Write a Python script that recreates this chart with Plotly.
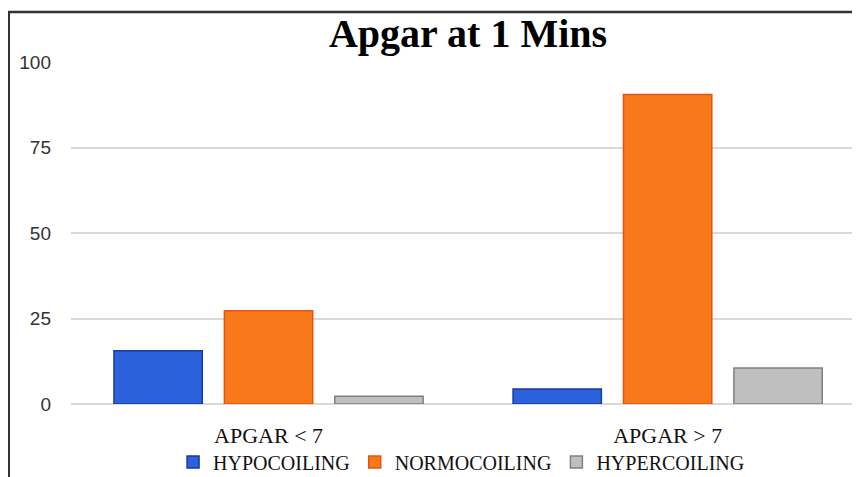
import plotly.graph_objects as go

categories = ["APGAR < 7", "APGAR > 7"]
series_names = ["HYPOCOILING", "NORMOCOILING", "HYPERCOILING"]
hypocoiling = [15.6, 4.4]
normocoiling = [27.3, 90.5]
hypercoiling = [2.3, 10.5]
y_ticks = [0, 25, 50, 75, 100]

fills = ["#2b62dc", "#f8791a", "#bfbfbf"]
lines = ["#1a3a9c", "#e5540e", "#808080"]
values = [hypocoiling, normocoiling, hypercoiling]

fig = go.Figure()
for name, vals, fc, lc in zip(series_names, values, fills, lines):
    fig.add_trace(go.Bar(
        x=categories, y=vals, name=name,
        marker=dict(color=fc, line=dict(color=lc, width=1.5)),
    ))

# page has an 8px body margin; figure is sized to fill the 860x477 window
OFF = 8
W, H = 860 - OFF, 477 - OFF
L, R, T, B = 63, 0, 62 - OFF, 477 - 404
fig.update_layout(
    width=W, height=H,
    margin=dict(l=L, r=R, t=T, b=B, pad=0, autoexpand=False),
    paper_bgcolor="white", plot_bgcolor="white",
    barmode="group", bargap=0.17, bargroupgap=0.2,
    title=dict(text="<b>Apgar at 1 Mins</b>", x=(468 - OFF) / W, xanchor="center",
               y=1 - (33 - OFF) / H, yanchor="middle",
               font=dict(family="Liberation Serif", size=40, color="black")),
    showlegend=True,
    legend=dict(orientation="h", x=0.495, xanchor="center",
                yref="container", y=1 - (462 - OFF) / H, yanchor="middle",
                font=dict(family="Liberation Serif", size=20, color="#111"),
                itemwidth=30, traceorder="normal"),
    xaxis=dict(range=[-0.495, 1.482], showgrid=False, showline=False, ticks="",
               automargin=False,
               tickfont=dict(family="Liberation Serif", size=22, color="#111"),
               ticklabelstandoff=16),
    yaxis=dict(range=[0, 100], tickvals=y_ticks, showgrid=True, gridcolor="#d9d9d9",
               gridwidth=2, zeroline=True, zerolinecolor="#d9d9d9", zerolinewidth=2,
               showline=False, ticks="", automargin=False,
               tickfont=dict(family="Liberation Sans", size=19, color="#333"),
               ticklabelstandoff=19),
)

px = lambda p: (p - OFF - L) / (W - L - R)
py = lambda p: (H - B - (p - OFF)) / (H - T - B)
fig.add_shape(type="line", xref="paper", yref="paper", x0=px(9), x1=px(9), y0=py(480), y1=py(12),
              line=dict(color="#333", width=2))
fig.add_shape(type="line", xref="paper", yref="paper", x0=px(8), x1=px(862), y0=py(12), y1=py(12),
              line=dict(color="#333", width=2.5))

fig.write_html("out.html")
